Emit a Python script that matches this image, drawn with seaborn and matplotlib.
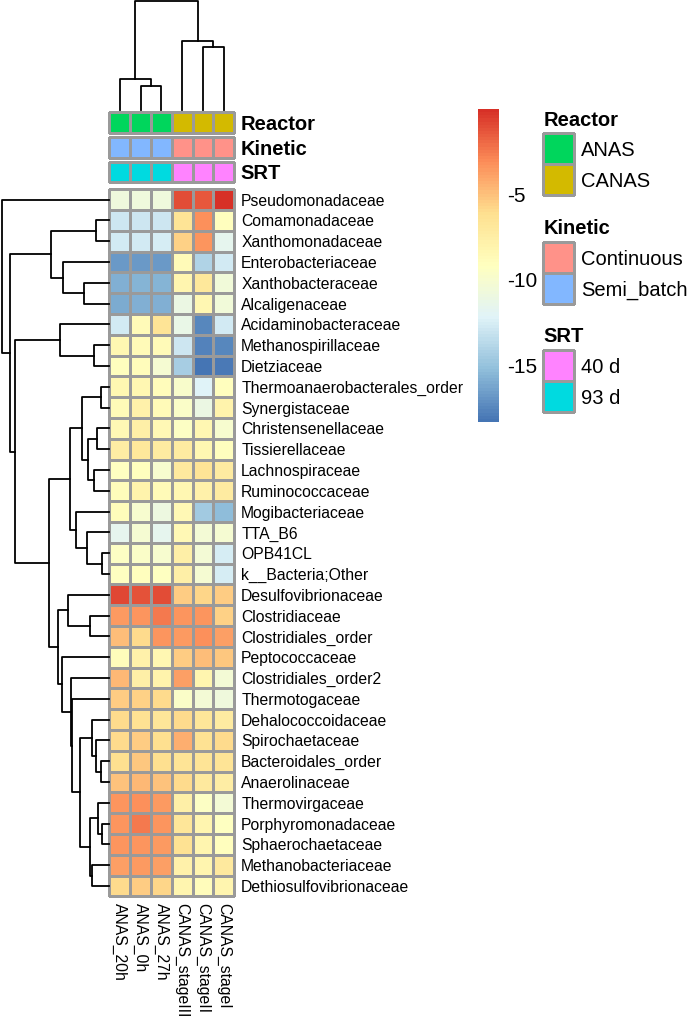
import numpy as np
import pandas as pd
import matplotlib
matplotlib.use("Agg")
import matplotlib.pyplot as plt
import seaborn as sns
from matplotlib.colors import LinearSegmentedColormap, ListedColormap

plt.rcParams["font.family"] = ["Liberation Sans", "DejaVu Sans"]
plt.rcParams["axes.unicode_minus"] = False

# ---------------- data ----------------
rows = ["Pseudomonadaceae", "Comamonadaceae", "Xanthomonadaceae", "Enterobacteriaceae",
        "Xanthobacteraceae", "Alcaligenaceae", "Acidaminobacteraceae", "Methanospirillaceae",
        "Dietziaceae", "Thermoanaerobacterales_order", "Synergistaceae", "Christensenellaceae",
        "Tissierellaceae", "Lachnospiraceae", "Ruminococcaceae", "Mogibacteriaceae", "TTA_B6",
        "OPB41CL", "k__Bacteria;Other", "Desulfovibrionaceae", "Clostridiaceae",
        "Clostridiales_order", "Peptococcaceae", "Clostridiales_order2", "Thermotogaceae",
        "Dehalococcoidaceae", "Spirochaetaceae", "Bacteroidales_order", "Anaerolinaceae",
        "Thermovirgaceae", "Porphyromonadaceae", "Sphaerochaetaceae", "Methanobacteriaceae",
        "Dethiosulfovibrionaceae"]

samples = ["ANAS_20h", "ANAS_0h", "ANAS_27h", "CANAS_stageIII", "CANAS_stageII", "CANAS_stageI"]

ANAS_20h = [-10.8, -13.0, -12.7, -16.8, -15.8, -16.0, -12.8, -8.3, -9.1, -8.4, -8.6, -8.5,
            -7.4, -9.3, -8.8, -8.9, -11.6, -9.4, -9.2, -0.8, -3.6, -4.8, -8.8, -4.7, -5.4,
            -6.0, -6.0, -6.2, -5.1, -3.3, -3.3, -3.4, -3.8, -5.9]
ANAS_0h = [-10.8, -13.0, -12.7, -16.7, -15.6, -15.8, -8.7, -8.7, -8.8, -8.3, -7.8, -7.6,
           -6.9, -9.1, -7.9, -9.9, -10.1, -9.7, -9.0, -1.2, -3.4, -6.0, -7.8, -7.5, -5.5,
           -6.3, -5.3, -5.2, -4.7, -3.1, -2.5, -3.4, -3.6, -5.3]
ANAS_27h = [-10.7, -13.0, -12.6, -16.7, -15.7, -15.9, -6.5, -8.7, -10.2, -8.9, -8.7, -8.5,
            -7.3, -9.9, -8.6, -10.9, -11.6, -10.0, -9.3, -0.9, -2.5, -3.3, -8.3, -8.0, -6.0,
            -6.6, -6.2, -6.2, -5.0, -3.6, -3.3, -3.5, -3.8, -5.8]
CANAS_stageIII = [-1.0, -6.5, -5.6, -8.6, -8.2, -11.0, -11.3, -13.0, -14.4, -9.8, -9.6, -9.4,
                  -7.3, -7.0, -8.3, -8.5, -8.5, -7.6, -7.5, -5.4, -3.3, -3.6, -5.4, -3.7, -9.7,
                  -6.0, -4.3, -6.4, -6.0, -7.5, -6.7, -6.3, -7.8, -8.2]
CANAS_stageII = [-1.3, -3.2, -3.3, -14.0, -6.8, -8.4, -17.5, -17.7, -18.3, -12.2, -11.0, -8.4,
                 -8.3, -6.5, -7.7, -14.5, -10.4, -10.3, -10.2, -5.8, -3.3, -3.1, -4.9, -8.2,
                 -10.4, -6.7, -6.3, -6.4, -7.0, -9.5, -8.2, -8.2, -8.1, -8.8]
CANAS_stageI = [-0.1, -9.1, -11.6, -12.7, -10.5, -10.5, -12.7, -17.6, -18.1, -9.0, -8.0, -9.9,
                -9.1, -7.3, -7.2, -15.4, -10.2, -12.5, -12.5, -5.4, -5.6, -3.7, -5.2, -10.4,
                -10.8, -7.2, -6.0, -6.4, -7.4, -10.3, -9.2, -9.0, -7.0, -8.2]

reactor = ["ANAS", "ANAS", "ANAS", "CANAS", "CANAS", "CANAS"]
kinetic = ["Semi_batch", "Semi_batch", "Semi_batch", "Continuous", "Continuous", "Continuous"]
srt = ["93 d", "93 d", "93 d", "40 d", "40 d", "40 d"]
reactor_levels = ["ANAS", "CANAS"]
kinetic_levels = ["Continuous", "Semi_batch"]
srt_levels = ["40 d", "93 d"]

colorbar_ticks = [-5, -10, -15]

# dendrograms: (left, right, merge height); ints are leaf positions
row_tree = (0,
            (((1, 2, 13), (3, (4, 5, 25), 46), 58),
             ((6, (7, 8, 15), 49),
              ((((9, 10, 8), ((11, 12, 12), (13, 14, 15), 21), 27),
                (15, (16, (17, 18, 7), 22), 33), 39),
               ((19, (20, 21, 19), 41),
                (22, (23, (24, ((25, (26, (27, 28, 8), 13), 17),
                                ((29, (30, 31, 7), 11), (32, 33, 17), 19), 29), 37), 38), 47),
                51), 60), 94), 98.7), 107)
col_tree = ((0, (1, 2, 24), 31), (3, (4, 5, 63), 69), 109)

# ---------------- styling helpers ----------------
def hcl(h, c=100.0, l=75.0):
    """R's hcl() -> hex (polar Luv, D65)."""
    Xn, Yn, Zn = 95.047, 100.0, 108.883
    un = 4 * Xn / (Xn + 15 * Yn + 3 * Zn)
    vn = 9 * Yn / (Xn + 15 * Yn + 3 * Zn)
    u = c * np.cos(np.radians(h))
    v = c * np.sin(np.radians(h))
    Y = Yn * ((l + 16) / 116) ** 3
    up = u / (13 * l) + un
    vp = v / (13 * l) + vn
    X = Y * 9 * up / (4 * vp)
    Z = Y * (12 - 3 * up - 20 * vp) / (4 * vp)
    X, Y, Z = X / 100, Y / 100, Z / 100
    rgb = np.array([3.2404542 * X - 1.5371385 * Y - 0.4985314 * Z,
                    -0.9692660 * X + 1.8760108 * Y + 0.0415560 * Z,
                    0.0556434 * X - 0.2040259 * Y + 1.0572252 * Z])
    rgb = np.where(rgb <= 0.0031308, 12.92 * rgb, 1.055 * np.abs(rgb) ** (1 / 2.4) - 0.055)
    rgb = np.clip(rgb, 0, 1)
    return matplotlib.colors.to_hex(rgb)

reactor_colors = [hcl(135), hcl(75)]
kinetic_colors = [hcl(15), hcl(255)]
srt_colors = [hcl(315), hcl(195)]

cmap = LinearSegmentedColormap.from_list(
    "rdylbu", ["#4575B4", "#91BFDB", "#E0F3F8", "#FFFFBF", "#FEE090", "#FC8D59", "#D73027"], N=100)
VMIN, VMAX = -18.35, 0.05
GRID = "#9a9a9a"
LW = 0.8

W, H = 690, 1021
fig = plt.figure(figsize=(W / 100, H / 100), dpi=100)

def add_ax(x0, y0, x1, y1):
    return fig.add_axes([x0 / W, 1 - y1 / H, (x1 - x0) / W, (y1 - y0) / H])

HX0, HX1, HY0, HY1 = 109.3, 234.3, 189.3, 896.3
CELL = (HY1 - HY0) / len(rows)

# ---------------- main heatmap ----------------
df = pd.DataFrame({"ANAS_20h": ANAS_20h, "ANAS_0h": ANAS_0h, "ANAS_27h": ANAS_27h,
                   "CANAS_stageIII": CANAS_stageIII, "CANAS_stageII": CANAS_stageII,
                   "CANAS_stageI": CANAS_stageI}, index=rows)[samples]

ax = add_ax(HX0, HY0, HX1, HY1)
cax = add_ax(478, 109, 499, 422)
sns.heatmap(df, ax=ax, cmap=cmap, vmin=VMIN, vmax=VMAX, linewidths=LW, linecolor=GRID,
            cbar_ax=cax, xticklabels=True, yticklabels=True)
ax.collections[0].set_clip_on(False)
ax.yaxis.tick_right()
ax.set_yticks(np.arange(len(rows)) + 0.5)
ax.set_yticklabels(rows, rotation=0, fontsize=11.3, ha="left")
ax.set_xticks(np.arange(len(samples)) + 0.5)
ax.set_xticklabels(samples, rotation=270, fontsize=11.3, ha="center", va="top")
ax.tick_params(axis="both", length=0)
ax.tick_params(axis="y", pad=5)
ax.tick_params(axis="x", pad=5)
ax.set_xlabel("")
ax.set_ylabel("")

cbar = ax.collections[0].colorbar
cbar.outline.set_visible(False)
cbar.set_ticks(colorbar_ticks)
cbar.set_ticklabels([str(t) for t in colorbar_ticks])
cax.tick_params(length=0, labelsize=15, pad=6)

# ---------------- annotation bars ----------------
ann = [("Reactor", reactor, reactor_levels, reactor_colors, 112.5),
       ("Kinetic", kinetic, kinetic_levels, kinetic_colors, 137.0),
       ("SRT", srt, srt_levels, srt_colors, 161.5)]
for name, vals, levels, cols, y0 in ann:
    a = add_ax(HX0, y0, HX1, y0 + CELL)
    codes = pd.DataFrame([[levels.index(v) for v in vals]], columns=samples)
    sns.heatmap(codes, ax=a, cmap=ListedColormap(cols), vmin=-0.5, vmax=len(levels) - 0.5,
                cbar=False, linewidths=LW, linecolor=GRID, xticklabels=False, yticklabels=False)
    a.collections[0].set_clip_on(False)
    a.text(1 + 6 / (HX1 - HX0), 0.5, name, transform=a.transAxes, fontsize=14.5,
           fontweight="bold", ha="left", va="center_baseline")

# ---------------- legends ----------------
legs = [("Reactor", reactor_levels, reactor_colors, 133),
        ("Kinetic", kinetic_levels, kinetic_colors, 242),
        ("SRT", srt_levels, srt_colors, 350)]
for title, levels, cols, top in legs:
    bh = 31 * len(levels)
    a = add_ax(543, top, 574, top + bh)
    sns.heatmap(pd.DataFrame({"v": range(len(levels))}, index=levels), ax=a,
                cmap=ListedColormap(cols), vmin=-0.5, vmax=len(levels) - 0.5, cbar=False,
                linewidths=LW, linecolor=GRID, xticklabels=False, yticklabels=True)
    a.collections[0].set_clip_on(False)
    a.yaxis.tick_right()
    a.set_yticklabels(levels, rotation=0, fontsize=14.5, ha="left")
    a.tick_params(axis="y", length=0, pad=5)
    a.set_ylabel("")
    a.text(0.02, 1 + 15 / bh, title, transform=a.transAxes, fontsize=14.5,
           fontweight="bold", ha="left", va="center_baseline")

# ---------------- dendrograms ----------------
def draw_tree(axis, node, horizontal):
    if isinstance(node, int):
        return node + 0.5, 0.0
    left, right, h = node
    p1, h1 = draw_tree(axis, left, horizontal)
    p2, h2 = draw_tree(axis, right, horizontal)
    if horizontal:
        axis.plot([h1, h, h, h2], [p1, p1, p2, p2], color="black", lw=1.3, clip_on=False)
    else:
        axis.plot([p1, p1, p2, p2], [h1, h, h, h2], color="black", lw=1.3, clip_on=False)
    return (p1 + p2) / 2, h

rax = add_ax(0, HY0, 108.5, HY1)
draw_tree(rax, row_tree, True)
rax.set_ylim(len(rows), 0)
rax.set_xlim(108.5, 0)
rax.axis("off")

dax = add_ax(HX0, 0, HX1, 110.5)
draw_tree(dax, col_tree, False)
dax.set_xlim(0, len(samples))
dax.set_ylim(0, 110.5)
dax.axis("off")

fig.savefig("out.png", dpi=100)
